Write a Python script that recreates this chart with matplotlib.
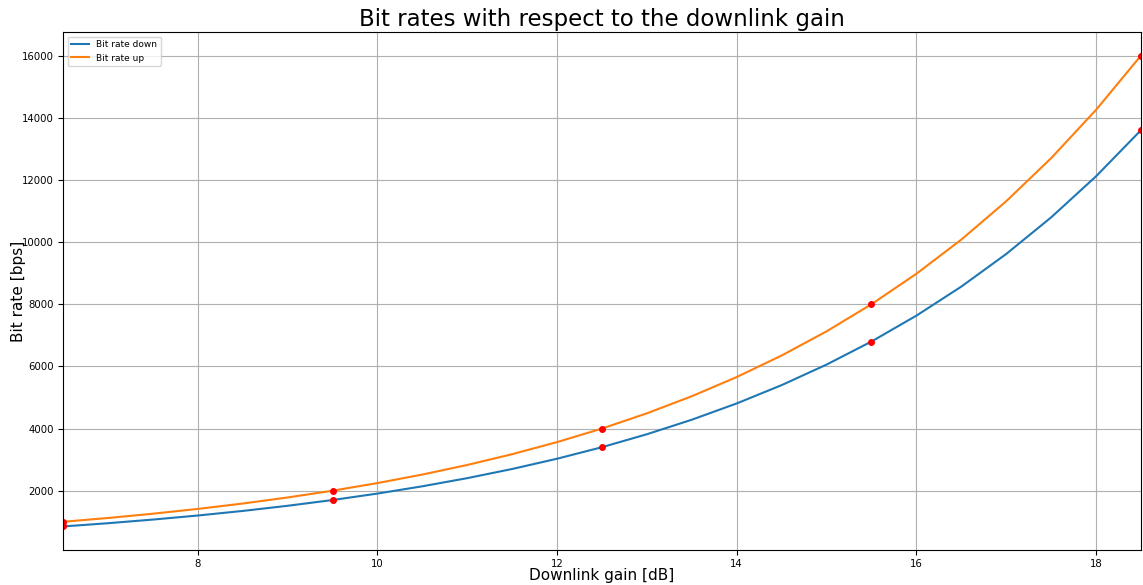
import matplotlib
matplotlib.use("Agg")
import matplotlib.pyplot as plt

# downlink gain [dB] sampled along the curves
gain = [6.5, 7.0, 7.5, 8.0, 8.5, 9.0, 9.5, 10.0, 10.5, 11.0, 11.5, 12.0, 12.5,
        13.0, 13.5, 14.0, 14.5, 15.0, 15.5, 16.0, 16.5, 17.0, 17.5, 18.0, 18.5]
rate_up = [1000, 1122, 1260, 1414, 1587, 1782, 2000, 2245, 2520, 2828, 3175, 3564, 4000,
           4490, 5040, 5657, 6350, 7127, 8000, 8980, 10079, 11314, 12699, 14254, 16000]
rate_down = [850, 954, 1071, 1202, 1349, 1515, 1700, 1908, 2142, 2404, 2699, 3029, 3400,
             3817, 4284, 4808, 5397, 6058, 6800, 7633, 8567, 9617, 10794, 12116, 13600]

# red marker points
pt_gain = [6.5, 9.5, 12.5, 15.5, 18.5]
pt_down = [850, 1700, 3400, 6800, 13600]
pt_up = [1000, 2000, 4000, 8000, 16000]

fig = plt.figure(figsize=(11.43, 5.85), dpi=100)
ax = fig.add_axes([63/1143, 1-550/585, (1141-63)/1143, (550-32)/585])
ax.plot(gain, rate_down, color="#1f77b4", lw=1.5, label="Bit rate down")
ax.plot(gain, rate_up, color="#ff7f0e", lw=1.5, label="Bit rate up")
ax.plot(pt_gain, pt_down, "o", color="red", ms=4)
ax.plot(pt_gain, pt_up, "o", color="red", ms=4)
ax.set_xlim(6.5, 18.5)
ax.grid(True)
ax.tick_params(labelsize=7.3, pad=3)
ax.set_title("Bit rates with respect to the downlink gain", fontsize=16.5, pad=4)
ax.set_xlabel("Downlink gain [dB]", fontsize=11, labelpad=-1)
ax.set_ylabel("Bit rate [bps]", fontsize=11, labelpad=-3)
ax.legend(loc="upper left", fontsize=6.5)
fig.savefig("out.png", dpi=100)
